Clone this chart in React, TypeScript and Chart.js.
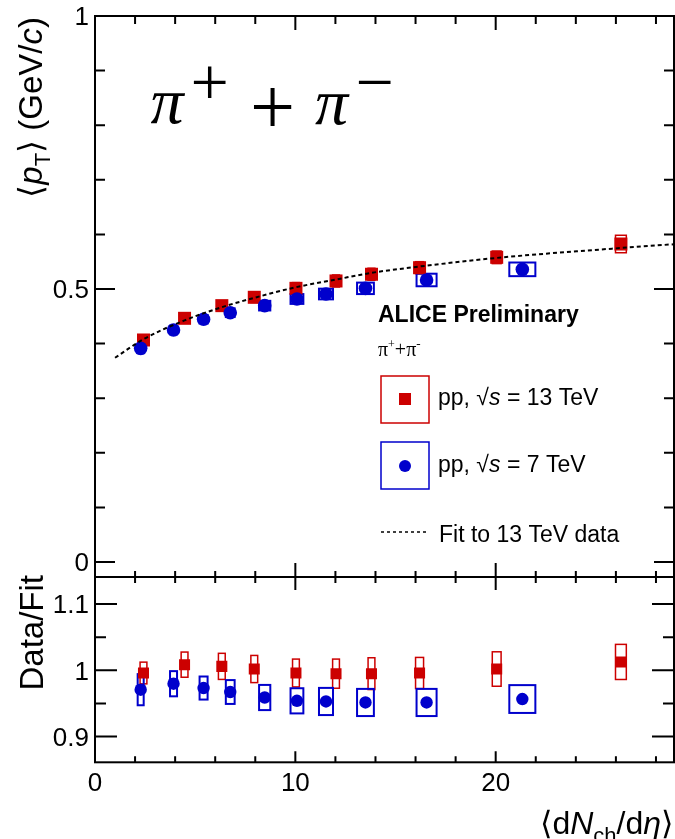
import React, { useEffect, useRef } from "react";
import { Chart, registerables } from "chart.js";

Chart.register(...registerables);

// ---------------- data ----------------
// pp, sqrt(s) = 13 TeV
const dNdEta13 = [2.42, 4.47, 6.33, 7.95, 10.03, 12.03, 13.8, 16.2, 20.05, 26.25];
const meanPt13 = [0.4066, 0.4463, 0.4695, 0.4848, 0.5012, 0.5147, 0.527, 0.539, 0.558, 0.5824];
const sysPt13 = [0.007, 0.008, 0.009, 0.0095, 0.0105, 0.011, 0.011, 0.011, 0.0115, 0.016];
const ratio13 = [0.996, 1.0086, 1.006, 1.002, 0.996, 0.995, 0.995, 0.996, 1.002, 1.0127];
const sysRatio13 = [0.0164, 0.019, 0.0197, 0.0205, 0.021, 0.022, 0.024, 0.0235, 0.026, 0.0265];
const sysX13 = [0.17, 0.17, 0.17, 0.17, 0.17, 0.17, 0.17, 0.2, 0.22, 0.27];

// pp, sqrt(s) = 7 TeV
const dNdEta7 = [2.28, 3.92, 5.42, 6.75, 8.47, 10.08, 11.53, 13.5, 16.55, 21.33];
const meanPt7 = [0.3913, 0.4249, 0.4445, 0.4566, 0.4695, 0.4817, 0.4908, 0.5012, 0.5165, 0.536];
const sysPt7 = [0.009, 0.008, 0.0077, 0.008, 0.0088, 0.009, 0.0098, 0.0105, 0.0115, 0.0125];
const ratio7 = [0.9708, 0.9798, 0.9733, 0.9673, 0.959, 0.954, 0.953, 0.9515, 0.9515, 0.9567];
const sysRatio7 = [0.0235, 0.019, 0.0174, 0.018, 0.019, 0.019, 0.0205, 0.0205, 0.0205, 0.021];
const sysX7 = [0.15, 0.175, 0.2, 0.22, 0.28, 0.32, 0.35, 0.42, 0.5, 0.65];

// fit to 13 TeV data (sampled off the dotted curve)
const fitX = [1.0, 2.42, 4.47, 6.33, 7.95, 10.03, 12.03, 13.8, 16.2, 20.05, 26.25, 28.9];
const fitY = [0.374, 0.408, 0.4425, 0.4667, 0.4838, 0.5032, 0.5173, 0.5296, 0.5412, 0.5569, 0.5751, 0.582];

// axes
const xMin = 0;
const xMax = 28.9;
const topYMin = -0.0275;
const topYMax = 1;
const ratioYMin = 0.8612;
const ratioYMax = 1.1409;
const xMajorTicks = [0, 10, 20];
const xMajorLabels = ["0", "10", "20"];
const xMinorTicks = [2, 4, 6, 8, 12, 14, 16, 18, 22, 24, 26, 28];
const topMajorTicks = [0, 0.5, 1];
const topMajorLabels = ["0", "0.5", "1"];
const topMinorTicks = [0.1, 0.2, 0.3, 0.4, 0.6, 0.7, 0.8, 0.9];
const ratioMajorTicks = [0.9, 1, 1.1];
const ratioMajorLabels = ["0.9", "1", "1.1"];
const ratioMinorTicks = [0.95, 1.05];

const RED = "#cc0000";
const BLUE = "#0000cc";
const SANS = '"Liberation Sans", Arial, Helvetica, sans-serif';
const SERIF = '"Liberation Serif", "Times New Roman", serif';

type Piece = { t: string; size?: number; italic?: boolean; bold?: boolean; dy?: number; family?: string };

function fontOf(p: Piece, size: number, family: string) {
  return `${p.italic ? "italic " : ""}${p.bold ? "bold " : ""}${p.size ?? size}px ${p.family ?? family}`;
}

function drawRich(ctx: CanvasRenderingContext2D, pieces: Piece[], x: number, y: number, align: string, size: number, family: string) {
  const widths = pieces.map((p) => {
    ctx.font = fontOf(p, size, family);
    return ctx.measureText(p.t).width;
  });
  const total = widths.reduce((a, b) => a + b, 0);
  let cx = align === "right" ? x - total : align === "center" ? x - total / 2 : x;
  ctx.textAlign = "left";
  ctx.textBaseline = "alphabetic";
  pieces.forEach((p, i) => {
    ctx.font = fontOf(p, size, family);
    ctx.fillText(p.t, cx, y + (p.dy ?? 0));
    cx += widths[i];
  });
}

function drawInk(ctx: CanvasRenderingContext2D, text: string, font: string, cx: number, cy: number) {
  ctx.font = font;
  ctx.textAlign = "left";
  ctx.textBaseline = "alphabetic";
  const m = ctx.measureText(text);
  const w = m.actualBoundingBoxLeft + m.actualBoundingBoxRight;
  const h = m.actualBoundingBoxAscent + m.actualBoundingBoxDescent;
  ctx.fillText(text, cx - w / 2 + m.actualBoundingBoxLeft, cy - h / 2 + m.actualBoundingBoxAscent);
}

function drawBoxes(chart: any, xs: number[], ys: number[], hw: number[], sys: number[], color: string, lw: number) {
  const ctx: CanvasRenderingContext2D = chart.ctx;
  const xs_ = chart.scales.x;
  const ys_ = chart.scales.y;
  const a = chart.chartArea;
  ctx.save();
  ctx.beginPath();
  ctx.rect(a.left, a.top, a.right - a.left, a.bottom - a.top);
  ctx.clip();
  ctx.strokeStyle = color;
  ctx.lineWidth = lw;
  for (let i = 0; i < xs.length; i++) {
    const x0 = xs_.getPixelForValue(xs[i] - hw[i]);
    const x1 = xs_.getPixelForValue(xs[i] + hw[i]);
    const y0 = ys_.getPixelForValue(ys[i] + sys[i]);
    const y1 = ys_.getPixelForValue(ys[i] - sys[i]);
    ctx.strokeRect(x0, y0, x1 - x0, y1 - y0);
  }
  ctx.restore();
}

type TickSpec = {
  yMajor: number[];
  yMinor: number[];
  yMajorLen: number;
  yMinorLen: number;
  xTopMajorLen: number;
  xTopMinorLen: number;
  xBotMajorLen: number;
  xBotMinorLen: number;
};

function drawFrame(chart: any, spec: TickSpec) {
  const ctx: CanvasRenderingContext2D = chart.ctx;
  const a = chart.chartArea;
  const xs = chart.scales.x;
  const ys = chart.scales.y;
  ctx.save();
  ctx.strokeStyle = "#000";
  ctx.lineWidth = 2;
  ctx.beginPath();
  const seg = (x0: number, y0: number, x1: number, y1: number) => {
    ctx.moveTo(x0, y0);
    ctx.lineTo(x1, y1);
  };
  xMajorTicks.forEach((v) => {
    const p = xs.getPixelForValue(v);
    seg(p, a.top, p, a.top + spec.xTopMajorLen);
    seg(p, a.bottom, p, a.bottom - spec.xBotMajorLen);
  });
  xMinorTicks.forEach((v) => {
    const p = xs.getPixelForValue(v);
    seg(p, a.top, p, a.top + spec.xTopMinorLen);
    seg(p, a.bottom, p, a.bottom - spec.xBotMinorLen);
  });
  spec.yMajor.forEach((v) => {
    const p = ys.getPixelForValue(v);
    seg(a.left, p, a.left + spec.yMajorLen, p);
    seg(a.right, p, a.right - spec.yMajorLen, p);
  });
  spec.yMinor.forEach((v) => {
    const p = ys.getPixelForValue(v);
    seg(a.left, p, a.left + spec.yMinorLen, p);
    seg(a.right, p, a.right - spec.yMinorLen, p);
  });
  ctx.stroke();
  ctx.strokeRect(a.left, a.top, a.right - a.left, a.bottom - a.top);
  ctx.restore();
}

function drawYLabels(chart: any, ticks: number[], labels: string[]) {
  const ctx: CanvasRenderingContext2D = chart.ctx;
  const a = chart.chartArea;
  const ys = chart.scales.y;
  ctx.save();
  ctx.fillStyle = "#000";
  ctx.font = `26px ${SANS}`;
  ctx.textAlign = "right";
  ctx.textBaseline = "alphabetic";
  ticks.forEach((v, i) => {
    ctx.fillText(labels[i], a.left - 6, ys.getPixelForValue(v) + 9.3);
  });
  ctx.restore();
}

function drawRotated(ctx: CanvasRenderingContext2D, pieces: Piece[], baseX: number, endY: number, size: number) {
  ctx.save();
  ctx.translate(baseX, endY);
  ctx.rotate(-Math.PI / 2);
  drawRich(ctx, pieces, 0, 0, "right", size, SANS);
  ctx.restore();
}

const topDecor = {
  id: "topDecor",
  beforeDatasetsDraw(chart: any) {
    drawBoxes(chart, dNdEta13, meanPt13, sysX13, sysPt13, RED, 1.5);
    drawBoxes(chart, dNdEta7, meanPt7, sysX7, sysPt7, BLUE, 2);
  },
  afterDraw(chart: any) {
    const ctx: CanvasRenderingContext2D = chart.ctx;
    drawFrame(chart, {
      yMajor: topMajorTicks,
      yMinor: topMinorTicks,
      yMajorLen: 20,
      yMinorLen: 10,
      xTopMajorLen: 14,
      xTopMinorLen: 8,
      xBotMajorLen: 14,
      xBotMinorLen: 6,
    });
    drawYLabels(chart, topMajorTicks, topMajorLabels);
    ctx.save();
    ctx.fillStyle = "#000";
    // y axis title
    drawRotated(
      ctx,
      [
        { t: "\u27E8" },
        { t: "p", italic: true },
        { t: "T", size: 22, dy: 8 },
        { t: "\u27E9" },
        { t: " (GeV/" },
        { t: "c", italic: true },
        { t: ")" },
      ],
      42,
      17,
      33
    );
    // big pi+ + pi- label
    drawInk(ctx, "\u03C0", `italic 66px ${SERIF}`, 168, 108);
    drawInk(ctx, "+", `68px ${SERIF}`, 210, 81.5);
    drawInk(ctx, "+", `80px ${SERIF}`, 272.5, 106.5);
    drawInk(ctx, "\u03C0", `italic 66px ${SERIF}`, 332.5, 109);
    drawInk(ctx, "\u2212", `68px ${SERIF}`, 375, 82);

    // legend block
    const ds = chart.data.datasets;
    const col13 = ds[2].backgroundColor;
    const col7 = ds[1].backgroundColor;
    ctx.font = `bold 23px ${SANS}`;
    ctx.textAlign = "left";
    ctx.textBaseline = "alphabetic";
    ctx.fillText("ALICE Preliminary", 378, 321.7);
    drawRich(
      ctx,
      [
        { t: "\u03C0" },
        { t: "+", size: 12, dy: -8 },
        { t: "+" },
        { t: "\u03C0" },
        { t: "-", size: 13, dy: -8 },
      ],
      378,
      356,
      "left",
      20,
      SERIF
    );
    ctx.lineWidth = 1.5;
    ctx.strokeStyle = col13;
    ctx.strokeRect(381, 376, 48, 47);
    ctx.fillStyle = col13;
    ctx.fillRect(399, 393, 12, 12);
    ctx.strokeStyle = col7;
    ctx.strokeRect(381, 442, 48, 47);
    ctx.fillStyle = col7;
    ctx.beginPath();
    ctx.arc(405, 466, 6, 0, Math.PI * 2);
    ctx.fill();
    ctx.fillStyle = "#000";
    drawRich(ctx, [{ t: "pp, " }, { t: "\u221A" }, { t: "s", italic: true }, { t: " = 13 TeV" }], 438, 405, "left", 23, SANS);
    drawRich(ctx, [{ t: "pp, " }, { t: "\u221A" }, { t: "s", italic: true }, { t: " = 7 TeV" }], 438, 472, "left", 23, SANS);
    ctx.strokeStyle = "#000";
    ctx.setLineDash([3, 3]);
    ctx.beginPath();
    ctx.moveTo(381, 532);
    ctx.lineTo(428, 532);
    ctx.stroke();
    ctx.setLineDash([]);
    ctx.font = `23px ${SANS}`;
    ctx.fillText(ds[0].label, 439, 541.7);
    ctx.restore();
  },
};

const bottomDecor = {
  id: "bottomDecor",
  beforeDatasetsDraw(chart: any) {
    drawBoxes(chart, dNdEta13, ratio13, sysX13, sysRatio13, RED, 1.5);
    drawBoxes(chart, dNdEta7, ratio7, sysX7, sysRatio7, BLUE, 2);
  },
  afterDraw(chart: any) {
    const ctx: CanvasRenderingContext2D = chart.ctx;
    const a = chart.chartArea;
    drawFrame(chart, {
      yMajor: ratioMajorTicks,
      yMinor: ratioMinorTicks,
      yMajorLen: 22,
      yMinorLen: 11,
      xTopMajorLen: 13,
      xTopMinorLen: 6,
      xBotMajorLen: 11,
      xBotMinorLen: 6,
    });
    drawYLabels(chart, ratioMajorTicks, ratioMajorLabels);
    ctx.save();
    ctx.fillStyle = "#000";
    ctx.font = `26px ${SANS}`;
    ctx.textAlign = "center";
    ctx.textBaseline = "alphabetic";
    const xs = chart.scales.x;
    xMajorTicks.forEach((v, i) => {
      ctx.fillText(xMajorLabels[i], xs.getPixelForValue(v), a.bottom + 28.2);
    });
    drawRotated(ctx, [{ t: "Data/Fit" }], 43, 5, 33);
    drawRich(
      ctx,
      [
        { t: "\u27E8" },
        { t: "d" },
        { t: "N", italic: true },
        { t: "ch", size: 22, dy: 9 },
        { t: "/" },
        { t: "d" },
        { t: "\u03B7", italic: true },
        { t: "\u27E9" },
      ],
      673,
      264,
      "right",
      32,
      SANS
    );
    ctx.restore();
  },
};

function pts(xs: number[], ys: number[]) {
  return xs.map((x, i) => ({ x, y: ys[i] }));
}

export default function App() {
  const topRef = useRef<HTMLCanvasElement>(null);
  const botRef = useRef<HTMLCanvasElement>(null);

  useEffect(() => {
    const common = {
      animation: false as const,
      responsive: false,
      devicePixelRatio: 1,
      events: [] as any[],
      plugins: { legend: { display: false }, tooltip: { enabled: false } },
    };
    const top = new Chart(topRef.current as HTMLCanvasElement, {
      type: "scatter",
      data: {
        datasets: [
          {
            label: "Fit to 13 TeV data",
            type: "line",
            data: pts(fitX, fitY),
            showLine: true,
            borderColor: "#000",
            backgroundColor: "#000",
            borderWidth: 2,
            borderDash: [4, 3],
            pointRadius: 0,
            cubicInterpolationMode: "monotone",
            fill: false,
            order: 0,
          } as any,
          {
            label: "pp, 7 TeV",
            data: pts(dNdEta7, meanPt7),
            pointStyle: "circle",
            pointRadius: 6.8,
            backgroundColor: BLUE,
            borderWidth: 0,
            order: 1,
          },
          {
            label: "pp, 13 TeV",
            data: pts(dNdEta13, meanPt13),
            pointStyle: "rect",
            pointRadius: 9.2,
            backgroundColor: RED,
            borderWidth: 0,
            order: 2,
          },
        ],
      },
      options: {
        ...common,
        layout: { autoPadding: false, padding: { left: 95, right: 1, top: 16, bottom: 3 } },
        scales: {
          x: { type: "linear", min: xMin, max: xMax, display: false },
          y: { type: "linear", min: topYMin, max: topYMax, display: false },
        },
      } as any,
      plugins: [topDecor],
    });
    const bot = new Chart(botRef.current as HTMLCanvasElement, {
      type: "scatter",
      data: {
        datasets: [
          {
            label: "pp, 7 TeV / fit",
            data: pts(dNdEta7, ratio7),
            pointStyle: "circle",
            pointRadius: 6.2,
            backgroundColor: BLUE,
            borderWidth: 0,
            order: 1,
          },
          {
            label: "pp, 13 TeV / fit",
            data: pts(dNdEta13, ratio13),
            pointStyle: "rect",
            pointRadius: 7.8,
            backgroundColor: RED,
            borderWidth: 0,
            order: 2,
          },
        ],
      },
      options: {
        ...common,
        layout: { autoPadding: false, padding: { left: 95, right: 1, top: 7, bottom: 76.7 } },
        scales: {
          x: { type: "linear", min: xMin, max: xMax, display: false },
          y: { type: "linear", min: ratioYMin, max: ratioYMax, display: false },
        },
      } as any,
      plugins: [bottomDecor],
    });
    return () => {
      top.destroy();
      bot.destroy();
    };
  }, []);

  return (
    <div style={{ position: "absolute", left: 0, top: 0, width: 675, height: 839, overflow: "hidden", background: "#fff" }}>
      <canvas ref={topRef} width={675} height={580} style={{ position: "absolute", left: 0, top: 0 }} />
      <canvas ref={botRef} width={675} height={269} style={{ position: "absolute", left: 0, top: 570 }} />
    </div>
  );
}
